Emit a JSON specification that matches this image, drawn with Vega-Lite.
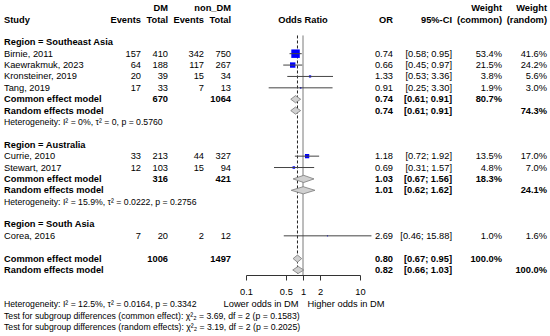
{
  "$schema": "https://vega.github.io/schema/vega-lite/v6.json",
  "background": "white",
  "padding": {"left": 4, "right": 3, "top": 0, "bottom": 0},
  "config": {
    "view": {"stroke": null},
    "text": {"font": "Liberation Sans", "fontSize": 9.3, "color": "#000"},
    "axis": {"labelFont": "Liberation Sans", "labelFontSize": 9.3, "labelColor": "#000", "domainColor": "#333", "tickColor": "#333", "grid": false, "tickSize": 5, "labelPadding": 7, "labelFlush": false, "labelOverlap": false}
  },
  "datasets": {
    "heads": [
      {"row": 1, "col": "study", "text": "Study"},
      {"row": 1, "col": "dmE", "text": "Events"},
      {"row": 0, "col": "dmT", "text": "DM"},
      {"row": 1, "col": "dmT", "text": "Total"},
      {"row": 1, "col": "ndE", "text": "Events"},
      {"row": 0, "col": "ndT", "text": "non_DM"},
      {"row": 1, "col": "ndT", "text": "Total"},
      {"row": 1, "col": "forest", "text": "Odds Ratio"},
      {"row": 1, "col": "or", "text": "OR"},
      {"row": 1, "col": "ci", "text": "95%-CI"},
      {"row": 0, "col": "wc", "text": "Weight"},
      {"row": 1, "col": "wc", "text": "(common)"},
      {"row": 0, "col": "wr", "text": "Weight"},
      {"row": 1, "col": "wr", "text": "(random)"}
    ],
    "refs": [
      {"ref": 1, "row": 26, "lower": "Lower odds in DM", "higher": "Higher odds in DM"}
    ],
    "rows": [
      {"row": 3, "kind": "region", "label": "Region = Southeast Asia"},
      {"row": 4, "kind": "study", "label": "Birnie, 2011", "dmE": 157, "dmT": 410, "ndE": 342, "ndT": 750, "or": 0.74, "lo": 0.58, "hi": 0.95, "wc": 0.534, "wr": 0.416},
      {"row": 5, "kind": "study", "label": "Kaewrakmuk, 2023", "dmE": 64, "dmT": 188, "ndE": 117, "ndT": 267, "or": 0.66, "lo": 0.45, "hi": 0.97, "wc": 0.215, "wr": 0.242},
      {"row": 6, "kind": "study", "label": "Kronsteiner, 2019", "dmE": 20, "dmT": 39, "ndE": 15, "ndT": 34, "or": 1.33, "lo": 0.53, "hi": 3.36, "wc": 0.038, "wr": 0.056},
      {"row": 7, "kind": "study", "label": "Tang, 2019", "dmE": 17, "dmT": 33, "ndE": 7, "ndT": 13, "or": 0.91, "lo": 0.25, "hi": 3.30, "wc": 0.019, "wr": 0.030},
      {"row": 8, "kind": "common", "label": "Common effect model", "dmT": 670, "ndT": 1064, "or": 0.74, "lo": 0.61, "hi": 0.91, "wc": 0.807},
      {"row": 9, "kind": "random", "label": "Random effects model", "or": 0.74, "lo": 0.61, "hi": 0.91, "wr": 0.743},
      {"row": 10, "kind": "het", "label": "Heterogeneity: I² = 0%, τ² = 0, p = 0.5760"},
      {"row": 12, "kind": "region", "label": "Region = Australia"},
      {"row": 13, "kind": "study", "label": "Currie, 2010", "dmE": 33, "dmT": 213, "ndE": 44, "ndT": 327, "or": 1.18, "lo": 0.72, "hi": 1.92, "wc": 0.135, "wr": 0.170},
      {"row": 14, "kind": "study", "label": "Stewart, 2017", "dmE": 12, "dmT": 103, "ndE": 15, "ndT": 94, "or": 0.69, "lo": 0.31, "hi": 1.57, "wc": 0.048, "wr": 0.070},
      {"row": 15, "kind": "common", "label": "Common effect model", "dmT": 316, "ndT": 421, "or": 1.03, "lo": 0.67, "hi": 1.56, "wc": 0.183},
      {"row": 16, "kind": "random", "label": "Random effects model", "or": 1.01, "lo": 0.62, "hi": 1.62, "wr": 0.241},
      {"row": 17, "kind": "het", "label": "Heterogeneity: I² = 15.9%, τ² = 0.0222, p = 0.2756"},
      {"row": 19, "kind": "region", "label": "Region = South Asia"},
      {"row": 20, "kind": "study", "label": "Corea, 2016", "dmE": 7, "dmT": 20, "ndE": 2, "ndT": 12, "or": 2.69, "lo": 0.46, "hi": 15.88, "wc": 0.010, "wr": 0.016},
      {"row": 22, "kind": "common", "grp": "Overall", "label": "Common effect model", "dmT": 1006, "ndT": 1497, "or": 0.80, "lo": 0.67, "hi": 0.95, "wc": 1.0},
      {"row": 23, "kind": "random", "grp": "Overall", "label": "Random effects model", "or": 0.82, "lo": 0.66, "hi": 1.03, "wr": 1.0},
      {"row": 26, "kind": "footer", "label": "Heterogeneity: I² = 12.5%, τ² = 0.0164, p = 0.3342"},
      {"row": 27, "kind": "footer", "label": "Test for subgroup differences (common effect): χ²₂ = 3.69, df = 2 (p = 0.1583)"},
      {"row": 28, "kind": "footer", "label": "Test for subgroup differences (random effects): χ²₂ = 3.19, df = 2 (p = 0.2025)"}
    ]
  },
  "bounds": "flush",
  "spacing": 0,
  "hconcat": [
    {
      "width": 137, "height": 336,
      "layer": [
        {"data": {"name": "heads"}, "transform": [{"filter": "datum.col === 'study'"}], "mark": {"type": "text", "align": "left", "x": 0, "fontWeight": "bold"}, "encoding": {"y": {"field": "row", "type": "quantitative", "scale": {"domain": [-0.715, 28.8], "reverse": true, "nice": false, "zero": false}, "axis": null}, "text": {"field": "text"}}},
        {"data": {"name": "heads"}, "transform": [{"filter": "datum.col === 'dmE'"}], "mark": {"type": "text", "align": "right", "x": "width", "fontWeight": "bold"}, "encoding": {"y": {"field": "row", "type": "quantitative", "scale": {"domain": [-0.715, 28.8], "reverse": true, "nice": false, "zero": false}, "axis": null}, "text": {"field": "text"}}},
        {"data": {"name": "rows"}, "transform": [{"filter": "datum.kind === 'study'"}], "mark": {"type": "text", "align": "left", "x": 0}, "encoding": {"y": {"field": "row", "type": "quantitative", "scale": {"domain": [-0.715, 28.8], "reverse": true, "nice": false, "zero": false}, "axis": null}, "text": {"field": "label"}}},
        {"data": {"name": "rows"}, "transform": [{"filter": "datum.kind === 'region' || datum.kind === 'common' || datum.kind === 'random'"}], "mark": {"type": "text", "align": "left", "x": 0, "fontWeight": "bold"}, "encoding": {"y": {"field": "row", "type": "quantitative", "scale": {"domain": [-0.715, 28.8], "reverse": true, "nice": false, "zero": false}, "axis": null}, "text": {"field": "label"}}},
        {"data": {"name": "rows"}, "transform": [{"filter": "datum.kind === 'het' || datum.kind === 'footer'"}], "mark": {"type": "text", "align": "left", "x": 0, "fontSize": 8.7}, "encoding": {"y": {"field": "row", "type": "quantitative", "scale": {"domain": [-0.715, 28.8], "reverse": true, "nice": false, "zero": false}, "axis": null}, "text": {"field": "label"}}},
        {"data": {"name": "rows"}, "transform": [{"filter": "isValid(datum.dmE)"}], "mark": {"type": "text", "align": "right", "x": "width"}, "encoding": {"y": {"field": "row", "type": "quantitative", "scale": {"domain": [-0.715, 28.8], "reverse": true, "nice": false, "zero": false}, "axis": null}, "text": {"field": "dmE", "type": "quantitative", "format": "d"}}}
      ]
    },
    {
      "width": 27, "height": 336,
      "layer": [
        {"data": {"name": "heads"}, "transform": [{"filter": "datum.col === 'dmT'"}], "mark": {"type": "text", "align": "right", "x": "width", "fontWeight": "bold"}, "encoding": {"y": {"field": "row", "type": "quantitative", "scale": {"domain": [-0.715, 28.8], "reverse": true, "nice": false, "zero": false}, "axis": null}, "text": {"field": "text"}}},
        {"data": {"name": "rows"}, "transform": [{"filter": "datum.kind === 'study' && isValid(datum.dmT)"}], "mark": {"type": "text", "align": "right", "x": "width"}, "encoding": {"y": {"field": "row", "type": "quantitative", "scale": {"domain": [-0.715, 28.8], "reverse": true, "nice": false, "zero": false}, "axis": null}, "text": {"field": "dmT", "type": "quantitative", "format": "d"}}},
        {"data": {"name": "rows"}, "transform": [{"filter": "datum.kind !== 'study' && isValid(datum.dmT)"}], "mark": {"type": "text", "align": "right", "x": "width", "fontWeight": "bold"}, "encoding": {"y": {"field": "row", "type": "quantitative", "scale": {"domain": [-0.715, 28.8], "reverse": true, "nice": false, "zero": false}, "axis": null}, "text": {"field": "dmT", "type": "quantitative", "format": "d"}}}
      ]
    },
    {
      "width": 36, "height": 336,
      "layer": [
        {"data": {"name": "heads"}, "transform": [{"filter": "datum.col === 'ndE'"}], "mark": {"type": "text", "align": "right", "x": "width", "fontWeight": "bold"}, "encoding": {"y": {"field": "row", "type": "quantitative", "scale": {"domain": [-0.715, 28.8], "reverse": true, "nice": false, "zero": false}, "axis": null}, "text": {"field": "text"}}},
        {"data": {"name": "rows"}, "transform": [{"filter": "isValid(datum.ndE)"}], "mark": {"type": "text", "align": "right", "x": "width"}, "encoding": {"y": {"field": "row", "type": "quantitative", "scale": {"domain": [-0.715, 28.8], "reverse": true, "nice": false, "zero": false}, "axis": null}, "text": {"field": "ndE", "type": "quantitative", "format": "d"}}}
      ]
    },
    {
      "width": 27, "height": 336,
      "layer": [
        {"data": {"name": "heads"}, "transform": [{"filter": "datum.col === 'ndT'"}], "mark": {"type": "text", "align": "right", "x": "width", "fontWeight": "bold"}, "encoding": {"y": {"field": "row", "type": "quantitative", "scale": {"domain": [-0.715, 28.8], "reverse": true, "nice": false, "zero": false}, "axis": null}, "text": {"field": "text"}}},
        {"data": {"name": "rows"}, "transform": [{"filter": "datum.kind === 'study' && isValid(datum.ndT)"}], "mark": {"type": "text", "align": "right", "x": "width"}, "encoding": {"y": {"field": "row", "type": "quantitative", "scale": {"domain": [-0.715, 28.8], "reverse": true, "nice": false, "zero": false}, "axis": null}, "text": {"field": "ndT", "type": "quantitative", "format": "d"}}},
        {"data": {"name": "rows"}, "transform": [{"filter": "datum.kind !== 'study' && isValid(datum.ndT)"}], "mark": {"type": "text", "align": "right", "x": "width", "fontWeight": "bold"}, "encoding": {"y": {"field": "row", "type": "quantitative", "scale": {"domain": [-0.715, 28.8], "reverse": true, "nice": false, "zero": false}, "axis": null}, "text": {"field": "ndT", "type": "quantitative", "format": "d"}}}
      ]
    },
    {
      "width": 129, "height": 275,
      "layer": [
        {"data": {"name": "refs"}, "mark": {"type": "rule", "color": "#7a7a7a", "strokeWidth": 1}, "encoding": {"x": {"field": "ref", "type": "quantitative", "scale": {"type": "log", "domain": [0.1, 10], "range": [15, 129], "nice": false}, "axis": {"values": [0.1, 0.5, 1, 2, 10], "format": "~g", "title": null}}, "y": {"datum": 2.4, "type": "quantitative", "scale": {"domain": [-0.715, 23.44], "reverse": true, "nice": false, "zero": false}, "axis": null}, "y2": {"value": "height"}}},
        {"data": {"name": "rows"}, "transform": [{"filter": "datum.grp === 'Overall' && datum.kind === 'common'"}], "mark": {"type": "rule", "color": "#222", "strokeWidth": 1, "strokeDash": [3, 2]}, "encoding": {"x": {"field": "or", "type": "quantitative", "axis": {"values": [0.1, 0.5, 1, 2, 10], "format": "~g", "title": null}}, "y": {"datum": 2.4, "type": "quantitative", "axis": null}, "y2": {"value": "height"}}},
        {"data": {"name": "rows"}, "transform": [{"filter": "datum.kind === 'study'"}], "mark": {"type": "point", "shape": "square", "filled": true, "color": "#0000ff", "opacity": 1, "strokeWidth": 0}, "encoding": {"x": {"field": "or", "type": "quantitative", "axis": {"values": [0.1, 0.5, 1, 2, 10], "format": "~g", "title": null}}, "y": {"field": "row", "type": "quantitative", "axis": null}, "size": {"field": "wc", "type": "quantitative", "scale": {"domain": [0, 0.534], "range": [0, 72]}, "legend": null}}},
        {"data": {"name": "rows"}, "transform": [{"filter": "datum.kind === 'study'"}], "mark": {"type": "rule", "color": "#444", "strokeWidth": 1}, "encoding": {"x": {"field": "lo", "type": "quantitative", "axis": {"values": [0.1, 0.5, 1, 2, 10], "format": "~g", "title": null}}, "x2": {"field": "hi"}, "y": {"field": "row", "type": "quantitative", "axis": null}}},
        {"data": {"name": "rows"}, "transform": [{"filter": "datum.kind === 'common' || datum.kind === 'random'"}, {"fold": ["lo", "or", "hi"], "as": ["key", "value"]}], "mark": {"type": "area", "orient": "vertical", "fill": "#d0d0d0", "stroke": "#7a7a7a", "strokeWidth": 0.8, "yOffset": {"expr": "datum.key === 'or' ? -3.6 : 0"}, "y2Offset": {"expr": "datum.key === 'or' ? 3.6 : 0"}}, "encoding": {"x": {"field": "value", "type": "quantitative", "axis": {"values": [0.1, 0.5, 1, 2, 10], "format": "~g", "title": null}}, "y": {"field": "row", "type": "quantitative", "axis": null}, "y2": {"field": "row"}, "detail": {"field": "row", "type": "nominal"}}},
        {"data": {"name": "heads"}, "transform": [{"filter": "datum.col === 'forest'"}], "mark": {"type": "text", "align": "center", "fontWeight": "bold"}, "encoding": {"x": {"datum": 1, "type": "quantitative", "axis": {"values": [0.1, 0.5, 1, 2, 10], "format": "~g", "title": null}}, "y": {"field": "row", "type": "quantitative", "axis": null}, "text": {"field": "text"}}},
        {"data": {"name": "refs"}, "mark": {"type": "text", "align": "right", "dx": -4.5}, "encoding": {"x": {"field": "ref", "type": "quantitative", "axis": {"values": [0.1, 0.5, 1, 2, 10], "format": "~g", "title": null}}, "y": {"field": "row", "type": "quantitative", "axis": null}, "text": {"field": "lower"}}},
        {"data": {"name": "refs"}, "mark": {"type": "text", "align": "left", "dx": 4.5}, "encoding": {"x": {"field": "ref", "type": "quantitative", "axis": {"values": [0.1, 0.5, 1, 2, 10], "format": "~g", "title": null}}, "y": {"field": "row", "type": "quantitative", "axis": null}, "text": {"field": "higher"}}}
      ]
    },
    {
      "width": 33, "height": 336,
      "layer": [
        {"data": {"name": "heads"}, "transform": [{"filter": "datum.col === 'or'"}], "mark": {"type": "text", "align": "right", "x": "width", "fontWeight": "bold"}, "encoding": {"y": {"field": "row", "type": "quantitative", "scale": {"domain": [-0.715, 28.8], "reverse": true, "nice": false, "zero": false}, "axis": null}, "text": {"field": "text"}}},
        {"data": {"name": "rows"}, "transform": [{"filter": "datum.kind === 'study'"}], "mark": {"type": "text", "align": "right", "x": "width"}, "encoding": {"y": {"field": "row", "type": "quantitative", "scale": {"domain": [-0.715, 28.8], "reverse": true, "nice": false, "zero": false}, "axis": null}, "text": {"field": "or", "type": "quantitative", "format": ".2f"}}},
        {"data": {"name": "rows"}, "transform": [{"filter": "datum.kind === 'common' || datum.kind === 'random'"}], "mark": {"type": "text", "align": "right", "x": "width", "fontWeight": "bold"}, "encoding": {"y": {"field": "row", "type": "quantitative", "scale": {"domain": [-0.715, 28.8], "reverse": true, "nice": false, "zero": false}, "axis": null}, "text": {"field": "or", "type": "quantitative", "format": ".2f"}}}
      ]
    },
    {
      "width": 59, "height": 336,
      "layer": [
        {"data": {"name": "heads"}, "transform": [{"filter": "datum.col === 'ci'"}], "mark": {"type": "text", "align": "right", "x": "width", "fontWeight": "bold"}, "encoding": {"y": {"field": "row", "type": "quantitative", "scale": {"domain": [-0.715, 28.8], "reverse": true, "nice": false, "zero": false}, "axis": null}, "text": {"field": "text"}}},
        {"data": {"name": "rows"}, "transform": [{"filter": "datum.kind === 'study'"}, {"calculate": "'[' + format(datum.lo, '.2f') + '; ' + format(datum.hi, '.2f') + ']'", "as": "ci"}], "mark": {"type": "text", "align": "right", "x": "width"}, "encoding": {"y": {"field": "row", "type": "quantitative", "scale": {"domain": [-0.715, 28.8], "reverse": true, "nice": false, "zero": false}, "axis": null}, "text": {"field": "ci"}}},
        {"data": {"name": "rows"}, "transform": [{"filter": "datum.kind === 'common' || datum.kind === 'random'"}, {"calculate": "'[' + format(datum.lo, '.2f') + '; ' + format(datum.hi, '.2f') + ']'", "as": "ci"}], "mark": {"type": "text", "align": "right", "x": "width", "fontWeight": "bold"}, "encoding": {"y": {"field": "row", "type": "quantitative", "scale": {"domain": [-0.715, 28.8], "reverse": true, "nice": false, "zero": false}, "axis": null}, "text": {"field": "ci"}}}
      ]
    },
    {
      "width": 50, "height": 336,
      "layer": [
        {"data": {"name": "heads"}, "transform": [{"filter": "datum.col === 'wc'"}], "mark": {"type": "text", "align": "right", "x": "width", "fontWeight": "bold"}, "encoding": {"y": {"field": "row", "type": "quantitative", "scale": {"domain": [-0.715, 28.8], "reverse": true, "nice": false, "zero": false}, "axis": null}, "text": {"field": "text"}}},
        {"data": {"name": "rows"}, "transform": [{"filter": "datum.kind === 'study' && isValid(datum.wc)"}], "mark": {"type": "text", "align": "right", "x": "width"}, "encoding": {"y": {"field": "row", "type": "quantitative", "scale": {"domain": [-0.715, 28.8], "reverse": true, "nice": false, "zero": false}, "axis": null}, "text": {"field": "wc", "type": "quantitative", "format": ".1%"}}},
        {"data": {"name": "rows"}, "transform": [{"filter": "datum.kind !== 'study' && isValid(datum.wc)"}], "mark": {"type": "text", "align": "right", "x": "width", "fontWeight": "bold"}, "encoding": {"y": {"field": "row", "type": "quantitative", "scale": {"domain": [-0.715, 28.8], "reverse": true, "nice": false, "zero": false}, "axis": null}, "text": {"field": "wc", "type": "quantitative", "format": ".1%"}}}
      ]
    },
    {
      "width": 45, "height": 336,
      "layer": [
        {"data": {"name": "heads"}, "transform": [{"filter": "datum.col === 'wr'"}], "mark": {"type": "text", "align": "right", "x": "width", "fontWeight": "bold"}, "encoding": {"y": {"field": "row", "type": "quantitative", "scale": {"domain": [-0.715, 28.8], "reverse": true, "nice": false, "zero": false}, "axis": null}, "text": {"field": "text"}}},
        {"data": {"name": "rows"}, "transform": [{"filter": "datum.kind === 'study' && isValid(datum.wr)"}], "mark": {"type": "text", "align": "right", "x": "width"}, "encoding": {"y": {"field": "row", "type": "quantitative", "scale": {"domain": [-0.715, 28.8], "reverse": true, "nice": false, "zero": false}, "axis": null}, "text": {"field": "wr", "type": "quantitative", "format": ".1%"}}},
        {"data": {"name": "rows"}, "transform": [{"filter": "datum.kind !== 'study' && isValid(datum.wr)"}], "mark": {"type": "text", "align": "right", "x": "width", "fontWeight": "bold"}, "encoding": {"y": {"field": "row", "type": "quantitative", "scale": {"domain": [-0.715, 28.8], "reverse": true, "nice": false, "zero": false}, "axis": null}, "text": {"field": "wr", "type": "quantitative", "format": ".1%"}}}
      ]
    }
  ]
}
